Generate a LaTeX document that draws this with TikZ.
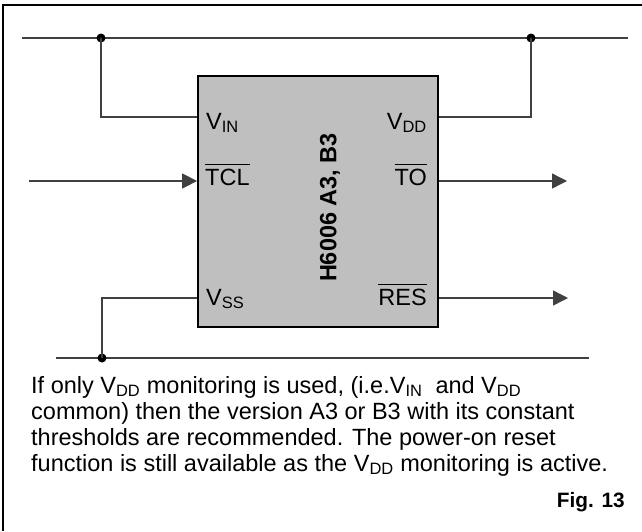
\documentclass[tikz,border=0pt]{standalone}
\usepackage{fontspec}
\setmainfont{Liberation Sans}
\usetikzlibrary{arrows.meta}

\newcommand{\lo}[1]{\textsubscript{#1}}
\newcommand{\ovr}[1]{\vbox{\hrule height 1.3pt \kern 3.5pt \hbox{#1}}}

\begin{document}
\begin{tikzpicture}[x=1pt, y=-1pt,
    wire/.style = {line width=1.4pt, black!75},
    sig/.style = {wire, -{Triangle[length=15pt, width=15pt]}},
    dot/.style = {circle, fill=black, inner sep=0pt, minimum size=9pt},
    pin/.style = {inner sep=0pt, font=\fontsize{23.5}{26}\selectfont},
    every node/.style = {align=left}]
  \useasboundingbox (0,0) rectangle (642,531);
  \draw[line width=2.2pt] (3,531) -- (3,5) -- (642,5);

  % supply rails
  \coordinate (tl) at (22,38);
  \coordinate (tr) at (628,38);
  \coordinate (bl) at (56,358);
  \coordinate (br) at (589,358);
  \draw[wire] (tl) -- (tr);
  \draw[wire] (bl) -- (br);
  \node[dot] (j1) at (101,38) {};
  \node[dot] (j2) at (531,38) {};
  \node[dot] (j3) at (102,358) {};

  \node[draw=black, line width=1.8pt, fill=black!25, minimum width=240pt,
        minimum height=251pt, inner sep=0pt] (ic) at (318,201.5) {};

  \draw[wire] (j1.center) |- (ic.west |- 0,117);
  \draw[wire] (j2.center) |- (ic.east |- 0,117);
  \draw[wire] (ic.west |- 0,298) -| (j3.center);
  \coordinate (tclin) at (29,181);
  \coordinate (toout) at (567,181);
  \coordinate (resout) at (568,298);
  \draw[sig] (tclin) -- (ic.west |- 0,181);
  \draw[sig] (ic.east |- 0,181) -- (toout);
  \draw[sig] (ic.east |- 0,298) -- (resout);

  \node[rotate=90, inner sep=0pt, font=\bfseries\fontsize{23.5}{26}\selectfont] (name) at (330,207.5) {H6006 A3, B3};
  \node[pin, anchor=base west] (vinlbl) at (206,129) {V\lo{IN}};
  \node[pin, anchor=base east] (vddlbl) at (427,129) {V\lo{DD}};
  \node[pin, anchor=base west] (tcllbl) at (205,185) {\ovr{TCL}};
  \node[pin, anchor=base east] (tolbl) at (427,185) {\ovr{TO}};
  \node[pin, anchor=base west] (vsslbl) at (206,305) {V\lo{SS}};
  \node[pin, anchor=base east] (reslbl) at (427,305) {\ovr{RES}};

  % note below the circuit
  \node[pin, anchor=base west] (note1) at (31,393) {If only V\lo{DD} monitoring is used, (i.e.V\lo{IN}~ and V\lo{DD}};
  \node[pin, anchor=base west] (note2) at (31,419) {common) then the version A3 or B3 with its constant};
  \node[pin, anchor=base west] (note3) at (31,445) {thresholds are recommended. The power-on reset};
  \node[pin, anchor=base west] (note4) at (31,471) {function is still available as the V\lo{DD} monitoring is active.};
  \node[anchor=base east, inner sep=0pt, font=\bfseries\fontsize{20.8}{24}\selectfont] (fig) at (625,507) {Fig. 13};
\end{tikzpicture}
\end{document}
